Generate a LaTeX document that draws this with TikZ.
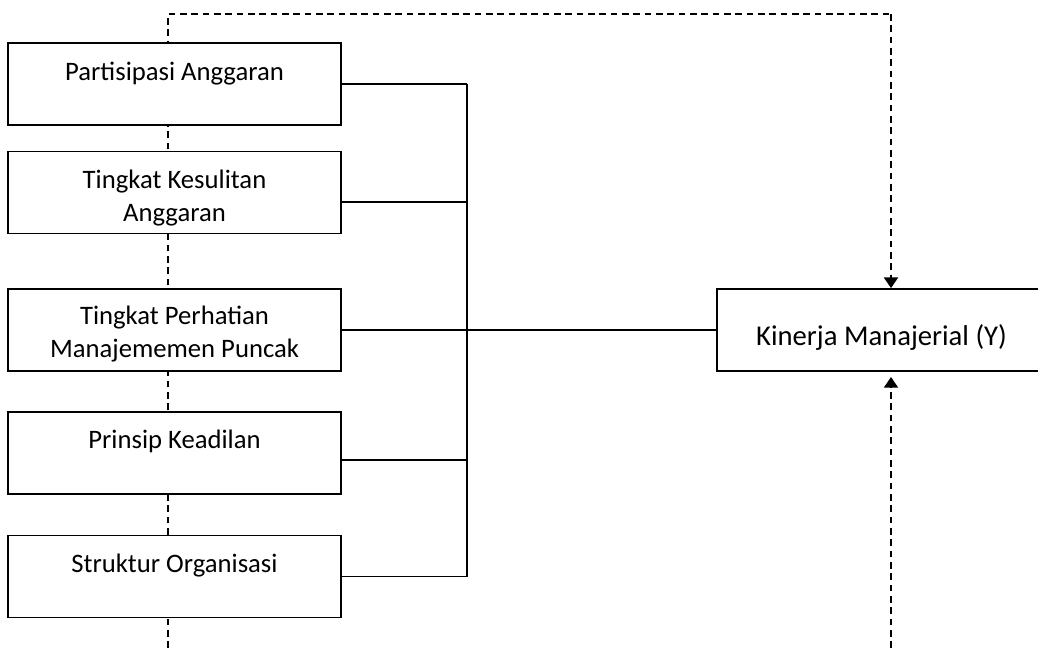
\documentclass[tikz,border=0pt]{standalone}
\usepackage{fontspec}
\setmainfont{Carlito}
\usetikzlibrary{arrows.meta}

\begin{document}
\begin{tikzpicture}[x=0.75pt, y=-0.75pt,
  box/.style={draw, line width=1.3pt, fill=white, minimum width=249.75pt, minimum height=61.5pt, inner sep=0pt},
  lbl/.style={anchor=base, align=center, inner sep=0pt, font=\fontsize{20}{24.75}\selectfont},
  link/.style={line width=1.4pt},
  dsh/.style={line width=1.4pt, dash pattern=on 5pt off 3.5pt},
  tip/.style={-{Triangle[length=8pt,width=10.5pt]}}]

\path[use as bounding box, clip] (0,0) rectangle (1038,648);

\coordinate (D1) at (168, 14);
\coordinate (D2) at (891, 14);
\coordinate (D3) at (168, 648);
\coordinate (D4) at (891, 648);
\coordinate (D5) at (891, 377);
\coordinate (B) at (467, 84);

% dashed line behind the boxes
\draw[dsh] (D3) -- (D1) -- (D2);

\node[box] (X1) at (174.5, 84) {};
\node[box] (X2) at (174.5, 192.5) {};
\node[box] (X3) at (174.5, 330) {};
\node[box] (X4) at (174.5, 453) {};
\node[box] (X5) at (174.5, 576.5) {};

% base of a two-line label is its last line
\node[lbl] (X1t) at (174.5, 81) {Partisipasi Anggaran};
\node[lbl] (X2t) at (174.5, 222) {Tingkat Kesulitan\\Anggaran};
\node[lbl] (X3t) at (174.5, 358) {Tingkat Perhatian\\Manajememen Puncak};
\node[lbl] (X4t) at (174.5, 448) {Prinsip Keadilan};
\node[lbl] (X5t) at (174.5, 572) {Struktur Organisasi};

\node[box, minimum width=246.75pt, font=\fontsize{21.5}{26}\selectfont,
  text height=22.5pt, text depth=0pt] (Y) at (881.5, 330) {Kinerja Manajerial (Y)};

% arrows into Y
\draw[dsh, tip] (D2) -- (D2 |- Y.north);
\draw[dsh, tip] (D4) -- (D5);

% bus
\draw[link] (X1.east) -- (X1.east -| B);
\draw[link] (X2.east) ++(0,9.5) coordinate (c2) -- (c2 -| B);
\draw[link] (X3.east) -- (Y.west);
\draw[link] (X4.east) ++(0,7) coordinate (c4) -- (c4 -| B);
\draw[link] (X5.east) -- (X5.east -| B);
\draw[link] (X1.east -| B) -- (X5.east -| B);

\end{tikzpicture}
\end{document}
